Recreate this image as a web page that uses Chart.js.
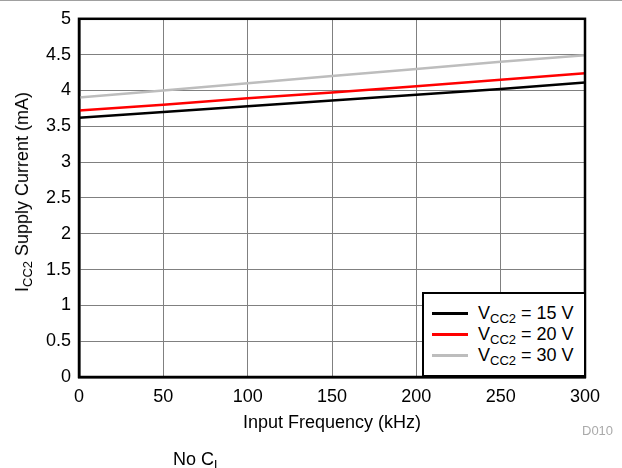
<!DOCTYPE html>
<html>
<head>
<meta charset="utf-8">
<script src="https://cdn.jsdelivr.net/npm/chart.js@4"></script>
<style>
  body { margin: 0; background: #fff; font-family: "Liberation Sans", Arial, sans-serif; }
  #wrap { position: relative; width: 622px; height: 468px; overflow: hidden; }
  #topline { position: absolute; left: 0; top: 0; width: 622px; height: 1px; background: #a0a0a0; }
  .txt { position: absolute; color: #000; font-size: 18px; white-space: nowrap; line-height: 1; font-weight: normal; }
  sub { font-size: 13px; vertical-align: -4px; line-height: 0; }
  #ytitle { left: 22px; top: 192px; transform: translate(-50%, -50%) rotate(-90deg); }
  #xtitle { left: 332px; top: 422px; transform: translate(-50%, -50%); }
  #code { left: 582px; top: 424px; color: #aaa; font-size: 13px; }
  #note { left: 173px; top: 450px; }
  #legend { position: absolute; left: 422px; top: 292px; width: 160px; height: 81px; border: 2px solid #000; background: #fff; }
  .row { position: absolute; left: 8px; height: 20px; }
  .row span.ln { position: absolute; left: 0; top: 9px; width: 36px; height: 3px; }
  .row span.t { position: absolute; left: 46px; top: 1px; font-size: 18px; white-space: nowrap; line-height: 1; }
</style>
</head>
<body>
<div id="wrap">
  <canvas id="myChart" width="622" height="468"></canvas>
  <div id="topline"></div>
  <div class="txt" id="ytitle">I<sub>CC2</sub> Supply Current (mA)</div>
  <div class="txt" id="xtitle">Input Frequency (kHz)</div>
  <div class="txt" id="code">D010</div>
  <div class="txt" id="note">No C<sub>L</sub></div>
  <div id="legend"></div>
</div>
<script>
// datos
const frecuencias = [0, 50, 100, 150, 200, 250, 300]
const vcc15 = [3.62, 3.70, 3.78, 3.86, 3.94, 4.02, 4.11]
const vcc20 = [3.72, 3.80, 3.89, 3.97, 4.06, 4.15, 4.24]
const vcc30 = [3.90, 4.00, 4.10, 4.20, 4.30, 4.40, 4.49]
const etiquetas = ['15 V', '20 V', '30 V']
const colores = ['#000000', '#ff0000', '#bdbdbd']

const series = [vcc15, vcc20, vcc30]

// leyenda con subindices
const leyenda = document.getElementById('legend')
series.forEach((s, i) => {
    const fila = document.createElement('div')
    fila.className = 'row'
    fila.style.top = (9 + i * 21) + 'px'
    fila.innerHTML = `<span class="ln" style="background:${colores[i]}"></span>` +
        `<span class="t">V<sub>CC2</sub> = ${etiquetas[i]}</span>`
    leyenda.appendChild(fila)
})

const ctx = document.getElementById('myChart')
const fuente = { family: 'Liberation Sans', size: 18 }

new Chart(ctx, {
    type: 'line',
    data: {
        datasets: series.map((s, i) => ({
            label: etiquetas[i],
            data: s.map((v, j) => ({ x: frecuencias[j], y: v })),
            borderColor: colores[i],
            borderWidth: 2.5,
            pointRadius: 0,
            tension: 0
        }))
    },
    options: {
        responsive: false,
        animation: false,
        layout: { padding: { left: 0, right: 37, top: 18, bottom: 0 } },
        plugins: { legend: { display: false }, tooltip: { enabled: false } },
        scales: {
            x: {
                type: 'linear',
                min: 0,
                max: 300,
                afterFit: (s) => { s.height = 91 },
                ticks: { stepSize: 50, color: '#000', padding: 9, maxRotation: 0, font: fuente },
                grid: { color: '#808080', lineWidth: 1, drawTicks: false },
                border: { color: '#000', width: 2.5 }
            },
            y: {
                min: 0,
                max: 5,
                afterFit: (s) => { s.width = 79 },
                ticks: { stepSize: 0.5, color: '#000', padding: 8, font: fuente, callback: (v) => String(v) },
                grid: { color: '#808080', lineWidth: 1, drawTicks: false },
                border: { color: '#000', width: 2.5 }
            }
        }
    },
    plugins: [{
        id: 'marco',
        afterDraw(chart) {
            const a = chart.chartArea
            const c = chart.ctx
            c.save()
            c.strokeStyle = '#000'
            c.lineWidth = 2.5
            c.strokeRect(a.left, a.top, a.right - a.left, a.bottom - a.top)
            c.restore()
        }
    }]
});
</script>
</body>
</html>
